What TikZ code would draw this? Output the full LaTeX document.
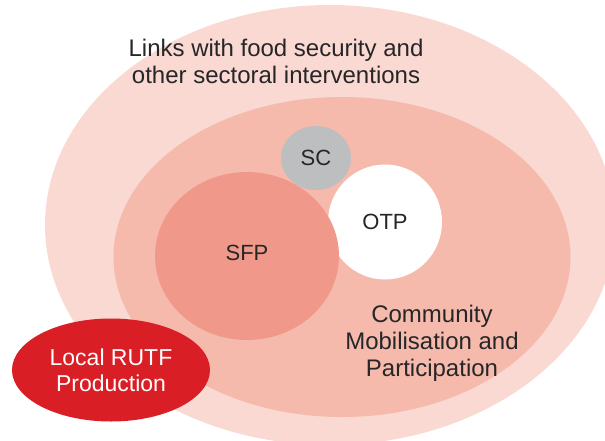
\documentclass[tikz,border=0pt]{standalone}
\usepackage{fontspec}
\setmainfont{Liberation Sans}
\usetikzlibrary{shapes.geometric}
\definecolor{outerpink}{RGB}{249,217,209}
\definecolor{innerpink}{RGB}{246,186,172}
\definecolor{sfppink}{RGB}{240,153,138}
\definecolor{scgrey}{RGB}{188,190,192}
\definecolor{rutfred}{RGB}{218,30,38}
\definecolor{textdark}{RGB}{38,38,40}
\tikzstyle{zone} = [ellipse, inner sep=0pt, draw=none, align=center, text=textdark, font=\fontsize{22}{26}\selectfont]
\tikzstyle{caption} = [align=center, inner sep=0pt, text=textdark, font=\fontsize{24}{27}\selectfont]

\begin{document}
\begin{tikzpicture}[x=1pt, y=-1pt]
		\useasboundingbox (0,0) rectangle (605,440);
		\node (Outer) [zone, fill=outerpink, minimum width=570pt, minimum height=440pt] at (330,225) {};
		\node (Inner) [zone, fill=innerpink, minimum width=457pt, minimum height=320pt] at (342,257) {};
		\node (OTP) [zone, fill=white, minimum width=114pt, minimum height=115pt] at (385,222) {OTP};
		\node (SC) [zone, fill=scgrey, minimum width=70pt, minimum height=64pt] at (316,158) {SC};
		\node (SFP) [zone, fill=sfppink, minimum width=184pt, minimum height=168pt] at (247,256) {\raisebox{6pt}{SFP}};
		\node (RUTF) [zone, fill=rutfred, text=white, font=\fontsize{23}{26}\selectfont, minimum width=198pt, minimum height=103pt] at (111,370) {Local RUTF\\Production};

		\node (Links) [caption] at (276,61) {Links with food security and\\other sectoral interventions};
		\node (Community) [caption] at (432,343) {Community\\Mobilisation and\\Participation};
	\end{tikzpicture}
\end{document}
